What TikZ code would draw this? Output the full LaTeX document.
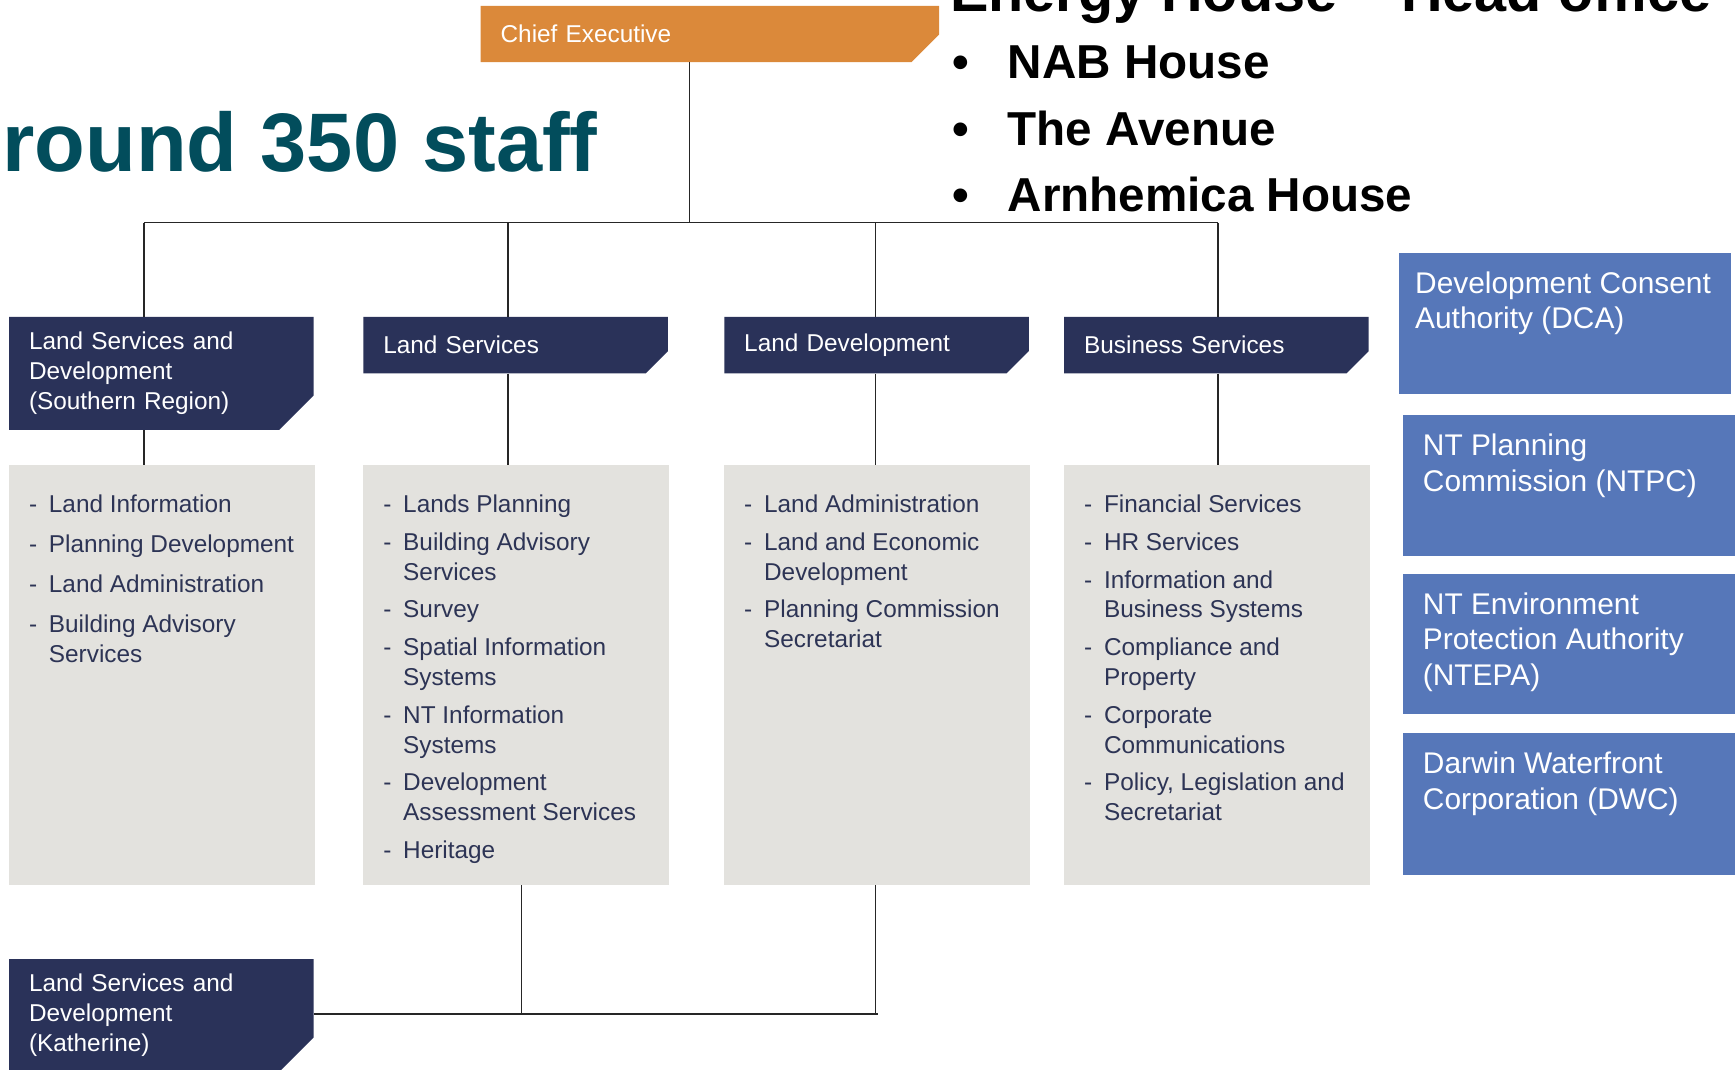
\documentclass[tikz,border=0pt]{standalone}
\usepackage{fontspec}
\setmainfont{Liberation Sans}

\definecolor{navy}{RGB}{42,50,89}
\definecolor{ceorange}{RGB}{219,137,58}
\definecolor{unitgrey}{RGB}{227,226,222}
\definecolor{agencyblue}{RGB}{86,119,185}
\definecolor{staffteal}{RGB}{2,77,92}
\definecolor{itemtext}{RGB}{45,52,85}

\newlength{\itemgap}
\newcommand{\headfont}{\fontsize{22}{27}\selectfont}
\newcommand{\ditem}[1]{\par\noindent\hangindent=18pt\hangafter=1\makebox[18pt][l]{-}#1\par\vspace{\itemgap}}
\newcommand{\unitlist}[2]{\hspace*{18pt}\parbox[c][379pt][t]{258pt}{\headfont\color{itemtext}\setlength{\itemgap}{#1}\vspace*{27pt}#2}}
\newcommand{\agencytext}[3]{\hspace*{#1}\parbox[c][#2][t]{\dimexpr300pt-#1\relax}{\fontsize{27}{32}\selectfont\vspace*{17pt}#3}}

\tikzset{
  cutbox/.style 2 args={anchor=north west, fill=white, text=white, inner xsep=18pt, inner ysep=0pt,
    align=left, font=\headfont,
    path picture={\fill[#1] (path picture bounding box.north west) -- (path picture bounding box.north east)
      -- ([yshift=#2]path picture bounding box.south east) -- ([xshift=-#2]path picture bounding box.south east)
      -- (path picture bounding box.south west) -- cycle;}},
  division/.style={cutbox={navy}{20pt}, text width=239pt, minimum height=51pt},
  region/.style={cutbox={navy}{31pt}, text width=239pt, minimum height=102pt},
  unitbox/.style={anchor=north west, fill=unitgrey, inner sep=0pt, minimum width=276pt, minimum height=379pt},
  agency/.style={anchor=north west, fill=agencyblue, text=white, inner sep=0pt},
  orgline/.style={line width=1.3pt, draw=black!85},
  office/.style={anchor=base west, inner sep=0pt, font=\fontsize{43}{50}\selectfont\bfseries}
}

\begin{document}
\begin{tikzpicture}[x=1pt, y=-1pt]
\useasboundingbox (0,0) rectangle (1568,966);

\node[anchor=base east, inner sep=0pt, text=staffteal, font=\fontsize{75}{90}\selectfont\bfseries] (staff) at (540,155) {round 350 staff};
\node[anchor=base west, inner sep=0pt, font=\fontsize{52}{60}\selectfont\bfseries] (energy) at (858,10) {Energy House – Head office};
\node[office] (nab) at (860,71) {\makebox[50pt][l]{•}NAB House};
\node[office] (avenue) at (860,131) {\makebox[50pt][l]{•}The Avenue};
\node[office] (arnhemica) at (860,191) {\makebox[50pt][l]{•}Arnhemica House};

\node[cutbox={ceorange}{25pt}, text width=378pt, minimum height=51pt] (ce) at (434,5) {Chief Executive};

\node[region] (sr) at (8,286) {Land Services and\\Development\\(Southern Region)};
\node[division] (ls) at (328,286) {Land Services};
\node[division] (ld) at (654,286) {Land Development};
\node[division] (bs) at (961,286) {Business Services};
\node[region] (kat) at (8,866) {Land Services and\\Development\\(Katherine)};

\node[unitbox] (g1) at (8,420) {\unitlist{9pt}{%
  \ditem{Land Information}
  \ditem{Planning Development}
  \ditem{Land Administration}
  \ditem{Building Advisory\\Services}}};
\node[unitbox] (g2) at (328,420) {\unitlist{7pt}{%
  \ditem{Lands Planning}
  \ditem{Building Advisory\\Services}
  \ditem{Survey}
  \ditem{Spatial Information\\Systems}
  \ditem{NT Information\\Systems}
  \ditem{Development\\Assessment Services}
  \ditem{Heritage}}};
\node[unitbox] (g3) at (654,420) {\unitlist{7pt}{%
  \ditem{Land Administration}
  \ditem{Land and Economic\\Development}
  \ditem{Planning Commission\\Secretariat}}};
\node[unitbox] (g4) at (961,420) {\unitlist{7pt}{%
  \ditem{Financial Services}
  \ditem{HR Services}
  \ditem{Information and\\Business Systems}
  \ditem{Compliance and\\Property}
  \ditem{Corporate\\Communications}
  \ditem{Policy, Legislation and\\Secretariat}}};

\node[agency] (dca) at (1263,228) {\agencytext{15pt}{128pt}{Development Consent\\Authority (DCA)}};
\node[agency] (ntpc) at (1267,375) {\agencytext{18pt}{127pt}{NT Planning\\Commission (NTPC)}};
\node[agency] (ntepa) at (1267,518) {\agencytext{18pt}{127pt}{NT Environment\\Protection Authority\\(NTEPA)}};
\node[agency] (dwc) at (1267,662) {\agencytext{18pt}{128pt}{Darwin Waterfront\\Corporation (DWC)}};

\coordinate (bar) at (623,201);
\coordinate (j1) at (130,201);
\coordinate (j2) at (459,201);
\coordinate (j3) at (791,201);
\coordinate (j4) at (1100,201);
\draw[orgline] (ce.south -| bar) -- (bar);
\draw[orgline] (j1) -- (j4);
\foreach \j/\h/\u in {j1/sr/g1, j2/ls/g2, j3/ld/g3, j4/bs/g4} {
  \draw[orgline] (\j) -- (\j |- \h.north);
  \draw[orgline] (\j |- \h.south) -- (\j |- \u.north);
}

\coordinate (k1) at (471,916);
\coordinate (k2) at (791,916);
\draw[orgline] (k1 |- g2.south) -- (k1);
\draw[orgline] (k2 |- g3.south) -- (k2);
\draw[orgline] (kat.east |- k1) -- ([xshift=2pt]k2);

\end{tikzpicture}
\end{document}
